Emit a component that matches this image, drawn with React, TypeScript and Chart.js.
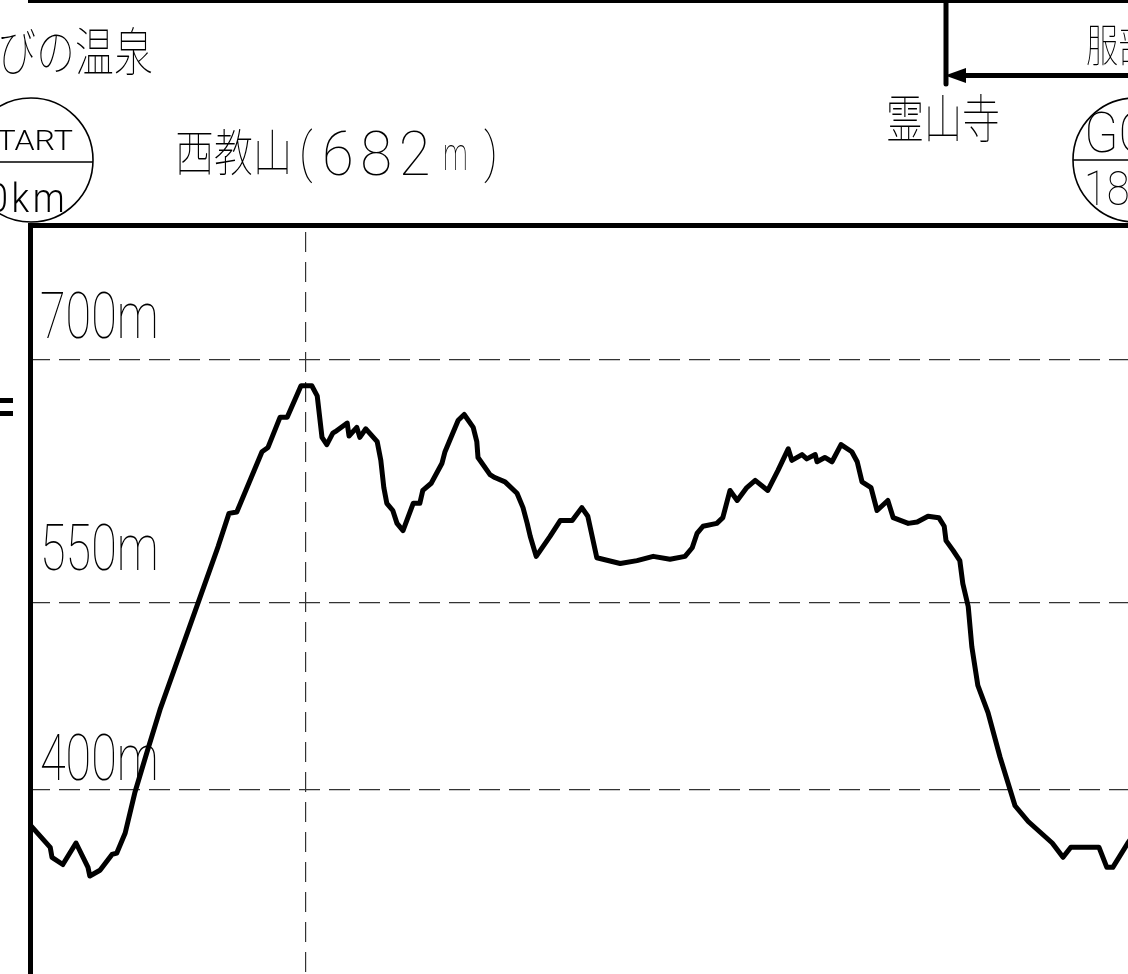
import React, { useEffect, useRef } from "react";
import { Chart, registerables } from "chart.js";

Chart.register(...registerables);

// distance along the course (km)
const KM = [
  0, 0.32, 0.35, 0.53, 0.75, 0.95, 0.98, 1.15, 1.35, 1.43,
  1.57, 1.73, 1.93, 2.15, 3.12, 3.3, 3.43, 3.85, 3.95, 4.15,
  4.27, 4.5, 4.68, 4.77, 4.85, 4.93, 5.03, 5.07, 5.27, 5.3,
  5.43, 5.48, 5.58, 5.77, 5.83, 5.88, 5.93, 6.03, 6.1, 6.2,
  6.37, 6.48, 6.53, 6.67, 6.85, 6.9, 6.98, 7.12, 7.22, 7.37,
  7.43, 7.45, 7.65, 7.73, 7.9, 8.1, 8.2, 8.27, 8.32, 8.42,
  8.65, 8.82, 9.02, 9.18, 9.28, 9.43, 9.82, 10.1, 10.37, 10.65,
  10.9, 11.02, 11.1, 11.2, 11.43, 11.53, 11.65, 11.77, 11.93, 12.07,
  12.28, 12.45, 12.62, 12.68, 12.85, 12.93, 13.07, 13.1, 13.23, 13.35,
  13.5, 13.68, 13.77, 13.85, 14.0, 14.1, 14.28, 14.37, 14.62, 14.77,
  14.95, 15.13, 15.22, 15.25, 15.37, 15.48, 15.53, 15.62, 15.68, 15.78,
  15.95, 16.15, 16.4, 16.62, 17.02, 17.2, 17.33, 17.8, 17.93, 18.03,
  18.28, 18.57,
];

// elevation (m)
const ELEV = [
  375, 360, 353, 348, 363, 346, 340, 344, 355, 356,
  370, 398, 426, 456, 570, 593, 594, 636, 639, 660,
  660, 682, 682, 675, 646, 641, 649, 650, 656, 647,
  653, 646, 652, 643, 630, 611, 600, 595, 586, 581,
  600, 600, 609, 614, 628, 636, 644, 658, 662, 653,
  643, 632, 620, 618, 615, 607, 597, 586, 577, 563,
  577, 588, 588, 597, 591, 562, 558, 560, 563, 561,
  563, 569, 579, 584, 586, 590, 609, 602, 611, 616,
  609, 623, 638, 630, 634, 631, 634, 629, 632, 629,
  641, 636, 629, 615, 611, 595, 602, 590, 586, 587,
  591, 590, 584, 574, 567, 560, 544, 528, 500, 473,
  454, 423, 389, 378, 363, 353, 360, 360, 346, 346,
  363, 380,
];

// axis window and reference lines
const X_RANGE = [0, 18.283];
const Y_RANGE = [271.6, 793.5];
const Y_GRID = [400, 530.5, 700];
const Y_GRID_LABELS = ["400m", "550m", "700m"];
const X_GRID = [4.58];

// header texts
const TXT_ONSEN = "びの温泉";
const TXT_HATTORI = "服部";
const TXT_RYOZENJI = "霊山寺";
const TXT_PEAK_NAME = "西教山";
const TXT_PEAK_OPEN = "(";
const TXT_PEAK_HEIGHT = "682";
const TXT_PEAK_UNIT = "m";
const TXT_PEAK_CLOSE = ")";
const TXT_START = "START";
const TXT_START_KM = "0km";
const TXT_GOAL = "GOAL";
const TXT_GOAL_KM = "18.4km";

// style: how far each y label sits above its line
const LABEL_RAISE = [10, 33, 22];

const CJK = '"Noto Sans CJK JP"';
const LAT = "Roboto";

function drawText(
  ctx: CanvasRenderingContext2D,
  s: string,
  x: number,
  y: number,
  size: number,
  sx: number,
  family: string,
  weight: number,
  baseline: CanvasTextBaseline = "alphabetic",
  align: CanvasTextAlign = "left",
  spacing = 0
) {
  ctx.save();
  ctx.font = `${weight} ${size}px ${family}`;
  ctx.textBaseline = baseline;
  ctx.textAlign = align;
  ctx.fillStyle = "#000";
  if (spacing) (ctx as any).letterSpacing = `${spacing}px`;
  ctx.scale(sx, 1);
  ctx.fillText(s, x / sx, y);
  ctx.restore();
}

function line(ctx: CanvasRenderingContext2D, x1: number, y1: number, x2: number, y2: number, w: number, cap: CanvasLineCap = "butt") {
  ctx.save();
  ctx.lineWidth = w;
  ctx.lineCap = cap;
  ctx.strokeStyle = "#000";
  ctx.beginPath();
  ctx.moveTo(x1, y1);
  ctx.lineTo(x2, y2);
  ctx.stroke();
  ctx.restore();
}

function circle(ctx: CanvasRenderingContext2D, cx: number, cy: number, r: number, w: number) {
  ctx.save();
  ctx.lineWidth = w;
  ctx.strokeStyle = "#000";
  ctx.beginPath();
  ctx.arc(cx, cy, r, 0, Math.PI * 2);
  ctx.stroke();
  ctx.restore();
}

const decorPlugin = {
  id: "decor",
  afterDraw(chart: any) {
    const ctx: CanvasRenderingContext2D = chart.ctx;
    const { left, top, bottom } = chart.chartArea;
    const yScale = chart.scales.y;

    // frame lines
    line(ctx, 28, 1.5, 1128, 1.5, 3);
    line(ctx, 28, top - 0.5, 1128, top - 0.5, 5);
    line(ctx, left - 0.5, top - 3, left - 0.5, bottom, 5);

    // Ryozenji pointer and arrow
    line(ctx, 946, 0, 946, 84, 5, "round");
    line(ctx, 960, 75.5, 1128, 75.5, 5);
    ctx.save();
    ctx.fillStyle = "#000";
    ctx.beginPath();
    ctx.moveTo(945, 75.5);
    ctx.lineTo(966, 68);
    ctx.lineTo(966, 83);
    ctx.closePath();
    ctx.fill();
    ctx.restore();

    // start / goal circles
    circle(ctx, 31, 160, 62, 1.6);
    line(ctx, -31, 162, 93, 162, 1.6);
    circle(ctx, 1135, 160, 62, 1.6);
    line(ctx, 1073, 160, 1197, 160, 1.6);

    // small marks at left edge
    ctx.save();
    ctx.fillStyle = "#000";
    ctx.fillRect(0, 398, 13, 5);
    ctx.fillRect(0, 411, 13, 5);
    ctx.restore();

    // texts
    drawText(ctx, TXT_ONSEN, -3, 77, 52, 0.75, CJK, 100, "ideographic");
    drawText(ctx, TXT_HATTORI, 1086, 67, 45, 0.72, CJK, 100, "ideographic");
    drawText(ctx, TXT_RYOZENJI, 886, 144, 52, 0.73, CJK, 100, "ideographic");

    drawText(ctx, TXT_PEAK_NAME, 175, 177, 50, 0.78, CJK, 100, "ideographic");
    drawText(ctx, TXT_PEAK_OPEN, 299, 171, 54, 0.85, LAT, 100);
    drawText(ctx, TXT_PEAK_HEIGHT, 322, 175, 61, 0.95, LAT, 100, "alphabetic", "left", 7);
    drawText(ctx, TXT_PEAK_UNIT, 443, 170, 46, 0.6, LAT, 100);
    drawText(ctx, TXT_PEAK_CLOSE, 484, 171, 54, 0.85, LAT, 100);

    drawText(ctx, TXT_START, 73, 150, 28, 1.15, LAT, 300, "alphabetic", "right");
    drawText(ctx, TXT_START_KM, -12, 212, 40, 0.9, LAT, 300, "alphabetic", "left", 4);
    drawText(ctx, TXT_GOAL, 1084, 152, 56, 0.9, LAT, 100, "alphabetic", "left");
    drawText(ctx, TXT_GOAL_KM, 1084, 205, 49, 0.85, LAT, 100, "alphabetic", "left");

    Y_GRID.forEach((v, i) => {
      const py = yScale.getPixelForValue(v);
      drawText(ctx, Y_GRID_LABELS[i], 40, py - LABEL_RAISE[i], 65, 0.72, LAT, 100);
    });
  },
};

export default function App() {
  const ref = useRef<HTMLCanvasElement | null>(null);

  useEffect(() => {
    if (!ref.current) return;
    const gridCommon = {
      drawTicks: false,
      color: "#333",
      lineWidth: 1.2,
      borderDash: [21, 9],
      borderDashOffset: 2,
    };
    const chart = new Chart(ref.current, {
      type: "line",
      data: {
        datasets: [
          {
            data: KM.map((x, i) => ({ x, y: ELEV[i] })),
            borderColor: "#000",
            borderWidth: 5,
            pointRadius: 0,
            tension: 0,
            borderJoinStyle: "round",
            borderCapStyle: "round",
            fill: false,
          },
        ],
      },
      options: {
        responsive: false,
        animation: false,
        events: [],
        layout: { padding: { top: 226, left: 31, right: 0, bottom: 0 } },
        plugins: { legend: { display: false }, tooltip: { enabled: false } },
        scales: {
          x: {
            type: "linear",
            min: X_RANGE[0],
            max: X_RANGE[1],
            ticks: { display: false },
            grid: { ...gridCommon, borderDashOffset: 24 },
            border: { display: false, dash: [20, 10], dashOffset: 24 },
            afterBuildTicks: (s: any) => {
              s.ticks = X_GRID.map((v) => ({ value: v }));
            },
          },
          y: {
            type: "linear",
            min: Y_RANGE[0],
            max: Y_RANGE[1],
            ticks: { display: false },
            grid: gridCommon,
            border: { display: false, dash: [21, 9], dashOffset: 2 },
            afterBuildTicks: (s: any) => {
              s.ticks = Y_GRID.map((v) => ({ value: v }));
            },
          },
        },
      } as any,
      plugins: [decorPlugin],
    });
    return () => chart.destroy();
  }, []);

  return (
    <div style={{ position: "fixed", left: 0, top: 0, width: 1128, height: 974, background: "#fff" }}>
      <canvas ref={ref} width={1128} height={974} style={{ display: "block" }} />
    </div>
  );
}
